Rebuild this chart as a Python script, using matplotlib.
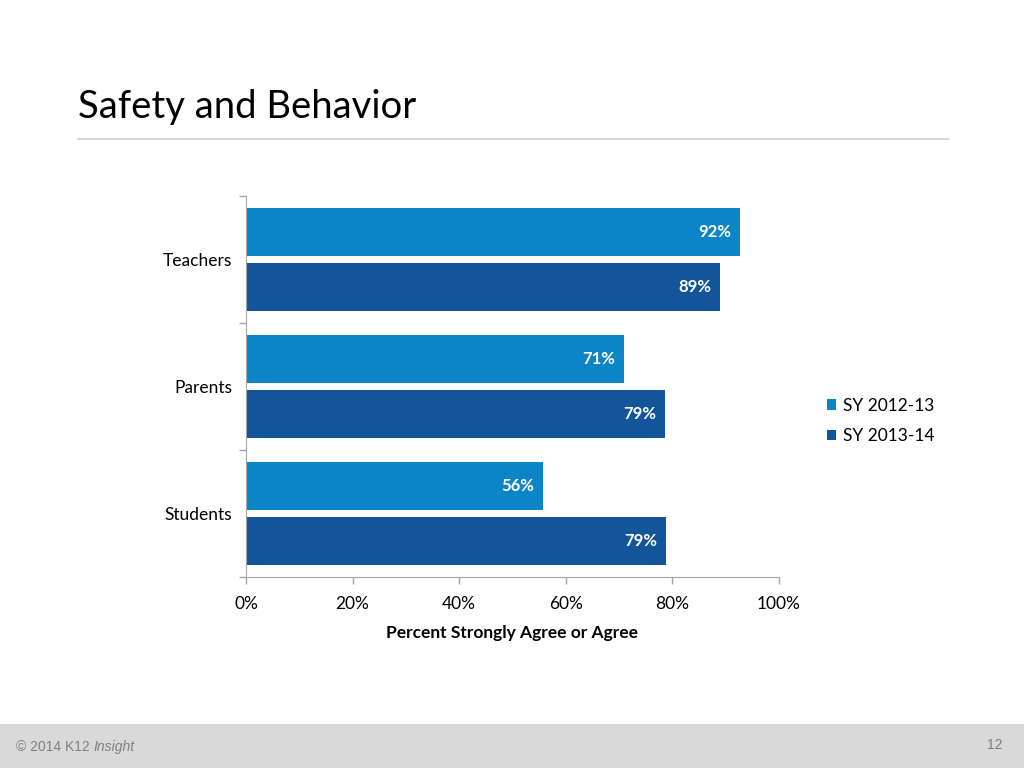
import matplotlib
matplotlib.use("Agg")
import matplotlib.pyplot as plt
from matplotlib.patches import Rectangle
from matplotlib.lines import Line2D
import numpy as np

categories = ["Teachers", "Parents", "Students"]
series_names = ["SY 2012-13", "SY 2013-14"]
sy_2012_13 = [92.6, 70.9, 55.7]
sy_2013_14 = [88.9, 78.6, 78.8]
label_2012_13 = ["92%", "71%", "56%"]
label_2013_14 = ["89%", "79%", "79%"]
x_ticks = [0, 20, 40, 60, 80, 100]
x_tick_labels = ["0%", "20%", "40%", "60%", "80%", "100%"]

c_light = "#0B85C8"
c_dark = "#13559B"
font = "Lato"

fig = plt.figure(figsize=(10.24, 7.68), dpi=100)
fig.patch.set_facecolor("white")

# Title and rule
fig.text(78/1024, 1-118/768, "Safety and Behavior", fontsize=27.5, family=font,
         color="black", va="baseline", ha="left")
fig.add_artist(Line2D([78/1024, 948/1024], [1-139/768, 1-139/768],
                      color="#D9D9D9", lw=1.5, transform=fig.transFigure))

# Footer band
fig.add_artist(Rectangle((0, 0), 1, 44/768, transform=fig.transFigure,
                         facecolor="#D9D9D9", edgecolor="none", zorder=0))
t1 = fig.text(16/1024, 1-747/768, "© 2014 K12", fontsize=10, family="Liberation Sans",
              color="#7F7F7F", va="center", ha="left")
fig.canvas.draw()
bb = t1.get_window_extent()
fig.text((bb.x1 + 4)/1024, 1-747/768, "Insight", fontsize=10, family="Liberation Sans",
         style="italic", color="#7F7F7F", va="center", ha="left")
fig.text(1002/1024, 1-745/768, "12", fontsize=10, family="Liberation Sans",
         color="#7F7F7F", va="center", ha="right")

ax = fig.add_axes([246/1024, 1-577/768, 533/1024, 381/768])
y = np.arange(len(categories))
h = 0.378
off = 0.213
b1 = ax.barh(y - off, sy_2012_13, height=h, color=c_light, label=series_names[0])
b2 = ax.barh(y + off, sy_2013_14, height=h, color=c_dark, label=series_names[1])
for bars, labels in ((b1, label_2012_13), (b2, label_2013_14)):
    for rect, lab in zip(bars, labels):
        ax.text(rect.get_width() - 1.6, rect.get_y() + rect.get_height()/2, lab,
                ha="right", va="center", color="white", fontsize=12,
                fontweight="bold", family=font)

ax.set_xlim(0, 100)
ax.set_ylim(2.5, -0.5)
ax.set_xticks(x_ticks)
ax.set_xticklabels(x_tick_labels, fontsize=12.5, family=font)
ax.set_yticks(y)
ax.set_yticklabels(categories, fontsize=12.5, family=font)
ax.set_yticks([-0.5, 0.5, 1.5, 2.5], minor=True)
ax.tick_params(axis="y", which="major", length=0, pad=18)
ax.tick_params(axis="y", which="minor", length=5, color="#A6A6A6", width=1)
for t in ax.get_yticklabels():
    t.set_x(-0.0)
ax.tick_params(axis="y", which="major", pad=10)
ax.tick_params(axis="x", length=5, color="#A6A6A6", width=1, pad=9)
for s in ("top", "right"):
    ax.spines[s].set_visible(False)
for s in ("left", "bottom"):
    ax.spines[s].set_color("#A6A6A6")
ax.set_xlabel("Percent Strongly Agree or Agree", fontsize=12.5, fontweight="bold",
              family=font, labelpad=9)

leg = fig.legend(handles=[b1, b2], labels=series_names,
                 loc="center left", bbox_to_anchor=(818/1024, 1-421/768),
                 frameon=False, prop={"family": font, "size": 12.5},
                 handlelength=0.55, handleheight=0.55, handletextpad=0.4,
                 labelspacing=0.85, borderpad=0)

fig.savefig("out.png", dpi=100)
